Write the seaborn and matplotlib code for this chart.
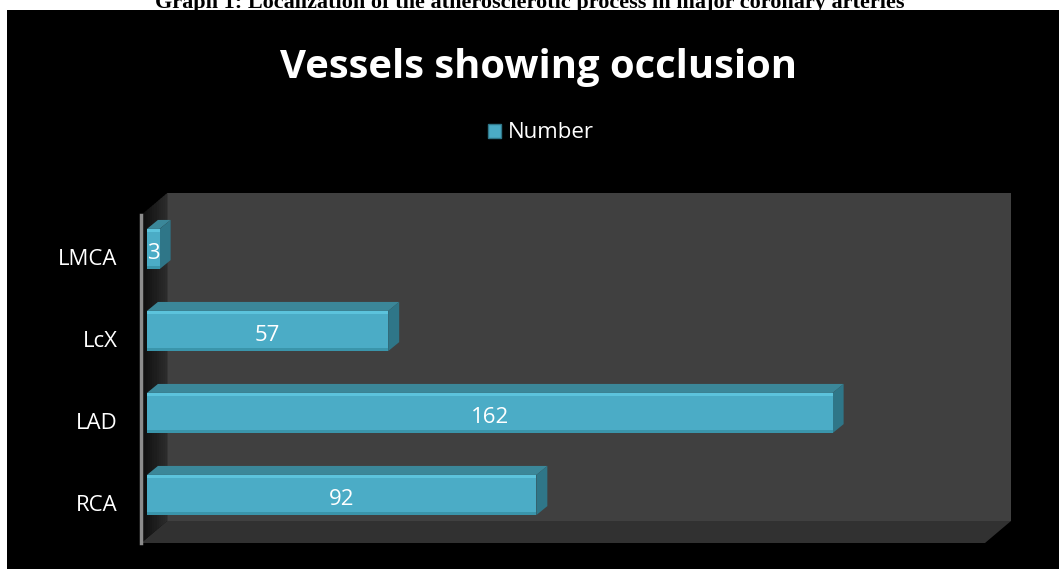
import numpy as np
import pandas as pd
import seaborn as sns
import matplotlib.pyplot as plt
from matplotlib.patches import Polygon, Rectangle, Patch

# data
vessels = ["LMCA", "LcX", "LAD", "RCA"]
number = [3, 57, 162, 92]
series_name = "Number"
chart_title = "Vessels showing occlusion"
caption = "Graph 1: Localization of the atherosclerotic process in major coronary arteries"

W, H = 1059, 569
fig = plt.figure(figsize=(W / 100, H / 100), dpi=100, facecolor="white")
sns.set_style("dark")
plt.rcParams["font.family"] = ["Open Sans", "DejaVu Sans"]

# black chart panel
fig.patches.append(Rectangle((7 / W, 0), 1 - 7 / W, 1 - 10 / H, transform=fig.transFigure,
                             facecolor="black", edgecolor="none", zorder=0))
fig.text(0.5, 1 - 8 / H, caption, ha="center", va="baseline", fontsize=16,
         fontweight="bold", family="Liberation Serif", color="black", zorder=1)

# front plane of the 3d box
ax = fig.add_axes([141 / W, 1 - 543 / H, (985 - 141) / W, (543 - 215) / H])
ax.set_facecolor("none")
ax.set_zorder(2)

df = pd.DataFrame({"vessel": vessels, "value": number})
sns.barplot(data=df, x="value", y="vessel", orient="h", width=0.49, color="#4BACC6",
            saturation=1, ax=ax, zorder=3)
ax.set_xlim(-1.4, 198)
ax.set_ylim(3.585, -0.415)
ax.set_yticks(np.arange(len(vessels)) + 0.1, vessels)
ax.set_xticks([])
ax.set_xlabel("")
ax.set_ylabel("")
ax.grid(False)
ax.tick_params(axis="y", length=0, pad=17, labelsize=16, labelcolor="white")
for s in ["top", "right", "bottom"]:
    ax.spines[s].set_visible(False)
ax.spines["left"].set_color("#8c8c8c")
ax.spines["left"].set_linewidth(2.5)
ax.spines["left"].set_zorder(5)

# depth offsets in pixels
DX, DY = 26, 22
bdx, bdy = 11, 9


def poly(pts, color, z):
    pts = fig.transFigure.inverted().transform(np.asarray(pts, dtype=float))
    p = Polygon(pts, closed=True, transform=fig.transFigure, facecolor=color,
                edgecolor="none", zorder=z, clip_on=False)
    ax.add_patch(p)
    return p


bars = list(ax.patches)
(x0, y0), (x1, y1) = ax.transAxes.transform([(0, 0), (1, 1)])
# back wall, floor, left wall
poly([(x0 + DX, y0 + DY), (x1 + DX, y0 + DY), (x1 + DX, y1 + DY), (x0 + DX, y1 + DY)], "#404040", 0.5)
poly([(x0, y0), (x1, y0), (x1 + DX, y0 + DY), (x0 + DX, y0 + DY)], "#313131", 0.6)
n = 12
for i in range(n):
    a, b = i / n, (i + 1) / n
    g = 0.05 + 0.13 * a
    poly([(x0 + DX * a, y0 + DY * a), (x0 + DX * b + 0.5, y0 + DY * b),
          (x0 + DX * b + 0.5, y1 + DY * b), (x0 + DX * a, y1 + DY * a)], (g, g, g), 0.7)

# 3d sides for the bars
for bar in bars:
    bx0, by0 = bar.get_x(), bar.get_y()
    bx1, by1 = bx0 + bar.get_width(), by0 + bar.get_height()
    (px0, ptop), (px1, pbot) = ax.transData.transform([(bx0, by0), (bx1, by1)])
    poly([(px0, ptop), (px1, ptop), (px1 + bdx, ptop + bdy), (px0 + bdx, ptop + bdy)], "#3B8799", 2.5)
    poly([(px1, ptop), (px1 + bdx, ptop + bdy), (px1 + bdx, pbot + bdy), (px1, pbot)], "#2F7688", 2.5)
    bar.set_zorder(2.55)
    bar.set_edgecolor("none")
    bar.set_clip_on(False)
    poly([(px0, ptop - 3), (px1, ptop - 3), (px1, ptop), (px0, ptop)], "#5CC3DC", 2.6)
    poly([(px0, pbot), (px1, pbot), (px1, pbot + 3), (px0, pbot + 3)], "#3A95AB", 2.6)

ax.bar_label(ax.containers[0], labels=[str(v) for v in number], label_type="center",
             color="white", fontsize=16)
for t in ax.texts:
    t.set_zorder(6)
    t.set_y(-3)

fig.text(539 / W, 1 - 78 / H, chart_title, ha="center", va="baseline", fontsize=28.8,
         fontweight="bold", color="white")
fig.legend(handles=[Patch(facecolor="#4BACC6", edgecolor="#2F7688", label=series_name)],
           loc="center", bbox_to_anchor=(541 / W, 1 - 133 / H), frameon=False,
           labelcolor="white", fontsize=16, handlelength=0.6, handleheight=0.6,
           handletextpad=0.3)

fig.savefig("out.png", dpi=100, facecolor="white")
